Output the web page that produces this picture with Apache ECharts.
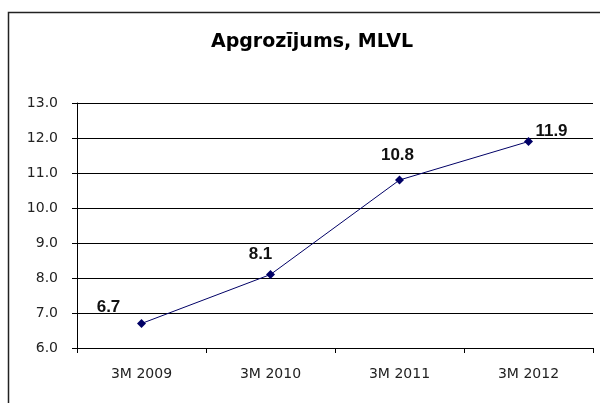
<!DOCTYPE html>
<html>
<head>
<meta charset="utf-8">
<script src="https://cdn.jsdelivr.net/npm/echarts@6/dist/echarts.min.js"></script>
<style>
  html, body { margin: 0; padding: 0; background: #fff; }
  #chart { width: 600px; height: 403px; }
</style>
</head>
<body>
<div id="chart"></div>
<script>
const categories = ['3M 2009', '3M 2010', '3M 2011', '3M 2012'];
const turnover = [6.7, 8.1, 10.8, 11.9];
// label nudges, matching where the original puts each number
const labelOffsets = [[-33, 3], [-10, -1], [-2, -6], [23, 9]];

const chart = echarts.init(document.getElementById('chart'));

chart.setOption({
    animation: false,
    title: {
        text: 'Apgrozījums, MLVL',
        left: 307, top: 28, textAlign: 'center',
        textStyle: { fontFamily: 'DejaVu Sans', fontSize: 19, fontWeight: 'bold', color: '#000' }
    },
    graphic: [{
        type: 'rect',
        shape: { x: 8.5, y: 12.5, width: 610, height: 410 },
        style: { fill: 'none', stroke: '#222', lineWidth: 1.5 }
    }],
    grid: { left: 77, right: 7, top: 103, bottom: 55, containLabel: false },
    xAxis: {
        type: 'category', data: categories, boundaryGap: true,
        axisLine: { lineStyle: { color: '#000', width: 1 } },
        axisTick: { show: true, length: 5, lineStyle: { color: '#000' } },
        axisLabel: { fontFamily: 'DejaVu Sans', fontSize: 14, color: '#222', margin: 19 }
    },
    yAxis: {
        type: 'value', min: 6, max: 13, interval: 1,
        axisLine: { show: true, lineStyle: { color: '#000', width: 1 } },
        axisTick: { show: true, length: 5, lineStyle: { color: '#000' } },
        axisLabel: { fontFamily: 'DejaVu Sans', fontSize: 14, color: '#222', margin: 19,
            formatter: v => v.toFixed(1) },
        splitLine: { show: true, lineStyle: { color: '#000', width: 1 } }
    },
    series: [{
        type: 'line',
        data: turnover.map((v, i) => ({
            value: v,
            label: { offset: labelOffsets[i] }
        })),
        symbol: 'diamond', symbolSize: 9,
        itemStyle: { color: '#000066' },
        lineStyle: { color: '#000066', width: 1 },
        label: {
            show: true, position: 'top', distance: 6,
            fontFamily: 'Liberation Sans, Arial', fontSize: 17, fontWeight: 'bold', color: '#111',
            formatter: p => p.value.toFixed(1)
        }
    }]
});
</script>
</body>
</html>
